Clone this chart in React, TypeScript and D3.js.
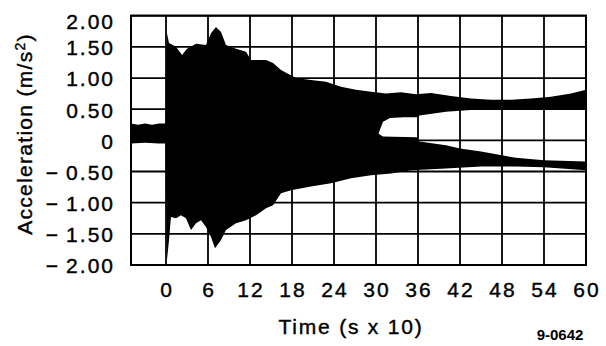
import React, { useRef, useEffect } from 'react';
import * as d3 from 'd3';

// envelope of the acceleration trace, [time (s x 10), m/s2]
const upperEnvelope: [number, number][] = [
  [-5, 0.27], [-4, 0.25], [-3, 0.27], [-2, 0.25], [-1, 0.27], [-0.05, 0.27],
  [0.1, 1.74], [0.43, 1.56], [1.43, 1.5], [2.29, 1.37], [3.0, 1.47], [4.29, 1.55],
  [5.71, 1.53], [6.43, 1.72], [7.14, 1.82], [7.86, 1.74], [8.57, 1.53], [10.0, 1.47],
  [11.43, 1.42], [12.14, 1.29], [14.29, 1.29], [15.29, 1.24], [16.43, 1.13], [18.57, 1.0],
  [20.71, 0.97], [22.86, 0.94], [25.0, 0.86], [27.14, 0.81], [29.29, 0.78], [31.43, 0.75],
  [33.57, 0.77], [35.71, 0.74], [37.86, 0.76], [40.71, 0.71], [43.57, 0.67], [46.43, 0.65],
  [49.29, 0.65], [52.14, 0.67], [55.0, 0.7], [57.86, 0.75], [60, 0.81]
];

const lowerEnvelope: [number, number][] = [
  [-5, -0.05], [-3, -0.04], [-1, -0.05], [-0.05, -0.05],
  [0.14, -1.92], [0.43, -1.6], [0.71, -1.23], [1.43, -1.25], [2.14, -1.2], [2.86, -1.25],
  [3.57, -1.44], [4.29, -1.33], [5.0, -1.28], [5.71, -1.39], [6.43, -1.55], [7.0, -1.73],
  [7.86, -1.6], [8.57, -1.44], [10.0, -1.33], [11.43, -1.28], [12.86, -1.2], [14.29, -1.09],
  [15.29, -1.04], [16.43, -0.85], [17.86, -0.8], [20.71, -0.74], [23.57, -0.69], [26.43, -0.61],
  [29.29, -0.56], [32.14, -0.53], [35.0, -0.48], [40, -0.45], [45, -0.42], [50, -0.42],
  [54, -0.43], [60, -0.48]
];

// empty space between the two bands late in the record
const gapTop: [number, number][] = [
  [30.4, 0.12], [31, 0.3], [32, 0.36], [34, 0.37], [35.8, 0.37], [36.2, 0.4],
  [40, 0.46], [44, 0.49], [50, 0.49], [56, 0.49], [60, 0.49]
];
const gapBottom: [number, number][] = [
  [30.4, 0.1], [31, 0.06], [35.8, 0.05], [36.2, -0.02], [40, -0.08], [42, -0.13],
  [45, -0.18], [48, -0.24], [50, -0.28], [54, -0.32], [60, -0.34]
];

const xTicks = [0, 6, 12, 18, 24, 30, 36, 42, 48, 54, 60];
const yTicks = [2, 1.5, 1, 0.5, 0, -0.5, -1, -1.5, -2];

export default function App(): JSX.Element {
  const svgRef = useRef<SVGSVGElement>(null);

  useEffect(() => {
    const el = svgRef.current;
    if (el == null) return;
    const svg = d3.select(el);
    svg.selectAll('*').remove();

    const x = d3.scaleLinear().domain([-5, 60]).range([131, 586]);
    const y = d3.scaleLinear().domain([-2, 2]).range([265, 15.7]);
    const font = '"Liberation Sans", Arial, sans-serif';

    svg.append('rect').attr('width', 606).attr('height', 346).attr('fill', '#fff');

    const line = d3
      .line<[number, number]>()
      .x((d) => x(d[0]))
      .y((d) => y(d[1]));

    // outer envelope
    const outer = [...upperEnvelope, ...lowerEnvelope.slice().reverse()];
    svg.append('path').attr('d', line(outer) + 'Z').attr('fill', '#000');

    // gap between the bands
    const gap = [...gapTop, ...gapBottom.slice().reverse()];
    svg.append('path').attr('d', line(gap) + 'Z').attr('fill', '#fff');

    // grid
    svg
      .selectAll('line.gx')
      .data(xTicks)
      .join('line')
      .attr('class', 'gx')
      .attr('x1', (d) => x(d))
      .attr('x2', (d) => x(d))
      .attr('y1', y(2))
      .attr('y2', y(-2))
      .attr('stroke', '#000')
      .attr('stroke-width', 1.8);
    svg
      .selectAll('line.gy')
      .data(yTicks)
      .join('line')
      .attr('class', 'gy')
      .attr('x1', x(-5))
      .attr('x2', x(60))
      .attr('y1', (d) => y(d))
      .attr('y2', (d) => y(d))
      .attr('stroke', '#000')
      .attr('stroke-width', 1.8);
    svg
      .append('rect')
      .attr('x', x(-5))
      .attr('y', y(2))
      .attr('width', x(60) - x(-5))
      .attr('height', y(-2) - y(2))
      .attr('fill', 'none')
      .attr('stroke', '#000')
      .attr('stroke-width', 2);

    const style = (t: d3.Selection<any, any, any, any>, size: number, ls: number) =>
      t
        .style('font-family', font)
        .style('font-size', `${size}px`)
        .style('letter-spacing', `${ls}px`)
        .attr('fill', '#000')
        .attr('stroke', '#000')
        .attr('stroke-width', 0.4);

    // y tick labels
    const fmt = (v: number) =>
      v === 0 ? '0' : (v < 0 ? '\u2212\u2009' : '') + Math.abs(v).toFixed(2);
    style(
      svg
        .selectAll('text.yt')
        .data(yTicks)
        .join('text')
        .attr('class', 'yt')
        .attr('x', 115)
        .attr('y', (d) => Math.max(y(d) + 1, 22))
        .attr('dy', '0.35em')
        .attr('text-anchor', 'end')
        .text(fmt),
      21,
      2
    );

    // x tick labels
    style(
      svg
        .selectAll('text.xt')
        .data(xTicks)
        .join('text')
        .attr('class', 'xt')
        .attr('x', (d) => x(d) + 1)
        .attr('y', 290)
        .attr('dy', '0.35em')
        .attr('text-anchor', 'middle')
        .text((d) => String(d)),
      21,
      2
    );

    // axis titles
    const yTitle = style(
      svg
        .append('text')
        .attr('transform', 'translate(25,134) rotate(-90)')
        .attr('dy', '0.35em')
        .attr('text-anchor', 'middle'),
      21,
      1.3
    );
    yTitle.append('tspan').text('Acceleration (m/s');
    yTitle.append('tspan').attr('dy', '-7').style('font-size', '14px').text('2');
    yTitle.append('tspan').attr('dy', '7').text(')');

    style(
      svg
        .append('text')
        .attr('x', 351)
        .attr('y', 327)
        .attr('dy', '0.35em')
        .attr('text-anchor', 'middle')
        .text('Time (s x 10)'),
      21,
      1.8
    );

    svg
      .append('text')
      .attr('x', 560)
      .attr('y', 335)
      .attr('dy', '0.35em')
      .attr('text-anchor', 'middle')
      .style('font-family', font)
      .style('font-size', '15px')
      .style('font-weight', 'bold')
      .attr('fill', '#000')
      .text('9-0642');
  }, []);

  return (
    <svg
      ref={svgRef}
      width={606}
      height={346}
      style={{ position: 'absolute', left: 0, top: 0, display: 'block' }}
    />
  );
}
